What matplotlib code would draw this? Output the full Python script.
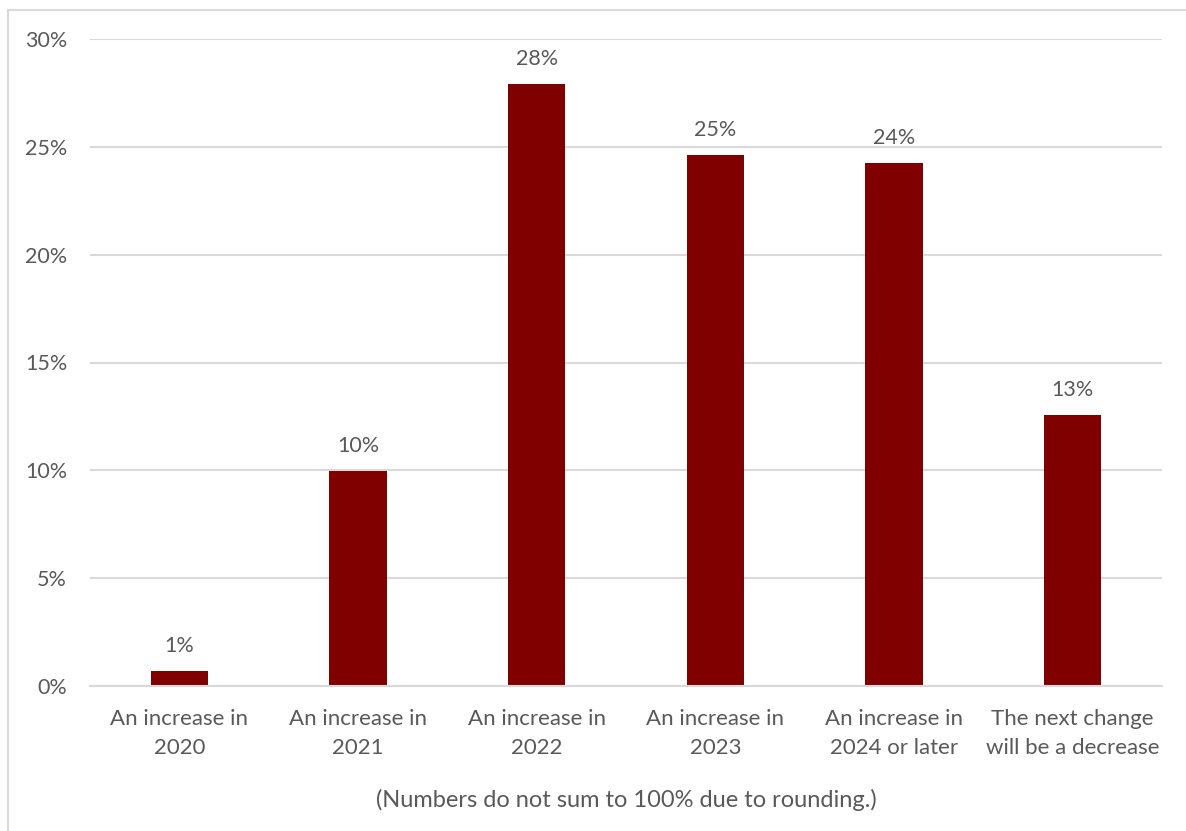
import matplotlib
matplotlib.use("Agg")
import matplotlib.pyplot as plt
from matplotlib.patches import Rectangle
from matplotlib.ticker import FuncFormatter

categories = ["An increase in\n2020", "An increase in\n2021", "An increase in\n2022",
              "An increase in\n2023", "An increase in\n2024 or later",
              "The next change\nwill be a decrease"]
values = [0.7, 9.95, 27.9, 24.6, 24.25, 12.55]
yticks = [0, 5, 10, 15, 20, 25, 30]
footnote = "(Numbers do not sum to 100% due to rounding.)"

bar_color = "#800000"
text_color = "#595959"
grid_color = "#d9d9d9"
font = ["Lato", "DejaVu Sans"]

fig = plt.figure(figsize=(11.86, 8.31), dpi=100)
fig.patch.set_facecolor("white")
ax = fig.add_axes([90/1186, 1-686/831, (1162-90)/1186, (686-39)/831])

x = list(range(len(categories)))
ax.bar(x, values, width=0.32, color=bar_color, zorder=3)
for xi, v in zip(x, values):
    ax.annotate(f"{v:.0f}%", (xi, v), xytext=(0, 11), textcoords="offset points",
                ha="center", va="bottom", fontsize=15.5, color=text_color, family=font)

ax.set_xlim(-0.5, len(categories) - 0.5)
ax.set_ylim(0, 30)
ax.set_yticks(yticks)
ax.yaxis.set_major_formatter(FuncFormatter(lambda v, p: f"{v:.0f}%"))
ax.set_xticks(x)
ax.set_xticklabels(categories, fontsize=16, color=text_color, family=font, linespacing=1.55)
for lab in ax.get_yticklabels():
    lab.set_fontsize(15.5)
    lab.set_color(text_color)
    lab.set_family(font)
ax.tick_params(axis="both", length=0)
ax.tick_params(axis="y", pad=16.5)
ax.tick_params(axis="x", pad=16.5)
ax.grid(axis="y", color=grid_color, linewidth=1.5, zorder=0)
for s in ["top", "right", "left"]:
    ax.spines[s].set_visible(False)
ax.spines["bottom"].set_color(grid_color)
ax.spines["bottom"].set_linewidth(1.5)
ax.spines["bottom"].set_zorder(4)

fig.text(626/1186, 1-800/831, footnote, ha="center", va="center", fontsize=17,
         color=text_color, family=font)

fig.patches.append(Rectangle((8/1186, -0.1), 1.2, 1-10/831+0.1, transform=fig.transFigure,
                             fill=False, edgecolor=grid_color, linewidth=1.5))

fig.savefig("out.png", dpi=100, facecolor="white")
